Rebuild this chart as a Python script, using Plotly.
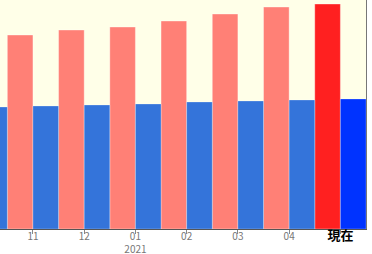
import plotly.graph_objects as go

months = ["10", "11", "12", "01", "02", "03", "04", "現在"]
tick_text = ["10", "11", "12", "01<br>2021", "02", "03", "04",
             "<span style='color:#000;font-size:13px'><b>現在</b></span>"]
red_vals = [190, 194, 199, 202, 208, 215, 222, 225]
blue_vals = [122, 123, 124, 125, 127, 128, 129, 130]

red_colors = ["#FF8076"] * (len(months) - 1) + ["#FF2020"]
blue_colors = ["#3474DA"] * (len(months) - 1) + ["#0033FF"]

idx = list(range(-1, len(months) - 1))

fig = go.Figure()
fig.add_trace(go.Bar(
    x=[i - 0.25 for i in idx], y=red_vals, width=0.5,
    marker=dict(color=red_colors, line=dict(color="rgba(255,255,255,0.35)", width=1)),
))
fig.add_trace(go.Bar(
    x=[i + 0.25 for i in idx], y=blue_vals, width=0.5,
    marker=dict(color=blue_colors, line=dict(color="rgba(255,255,255,0.25)", width=1)),
))

fig.update_layout(
    width=372, height=254,
    margin=dict(l=0, r=6, t=0, b=25),
    paper_bgcolor="white", plot_bgcolor="#FFFFE8",
    showlegend=False, barmode="overlay",
    font=dict(family="Noto Sans CJK JP, sans-serif", size=10, color="#777"),
    xaxis=dict(
        range=[-0.643, 6.5], tickmode="array", tickvals=idx[1:], ticktext=tick_text[1:],
        showline=True, linecolor="#555", linewidth=1,
        ticks="outside", ticklen=4, tickcolor="#888", tickwidth=1,
        ticklabelstandoff=-6,
        showgrid=False, zeroline=False, tickangle=0, automargin=False,
    ),
    yaxis=dict(
        range=[0, 229], side="right", showline=True, linecolor="#777", linewidth=1,
        showticklabels=False, showgrid=False, zeroline=False, ticks="", automargin=False,
    ),
)

fig.write_html("out.html")
